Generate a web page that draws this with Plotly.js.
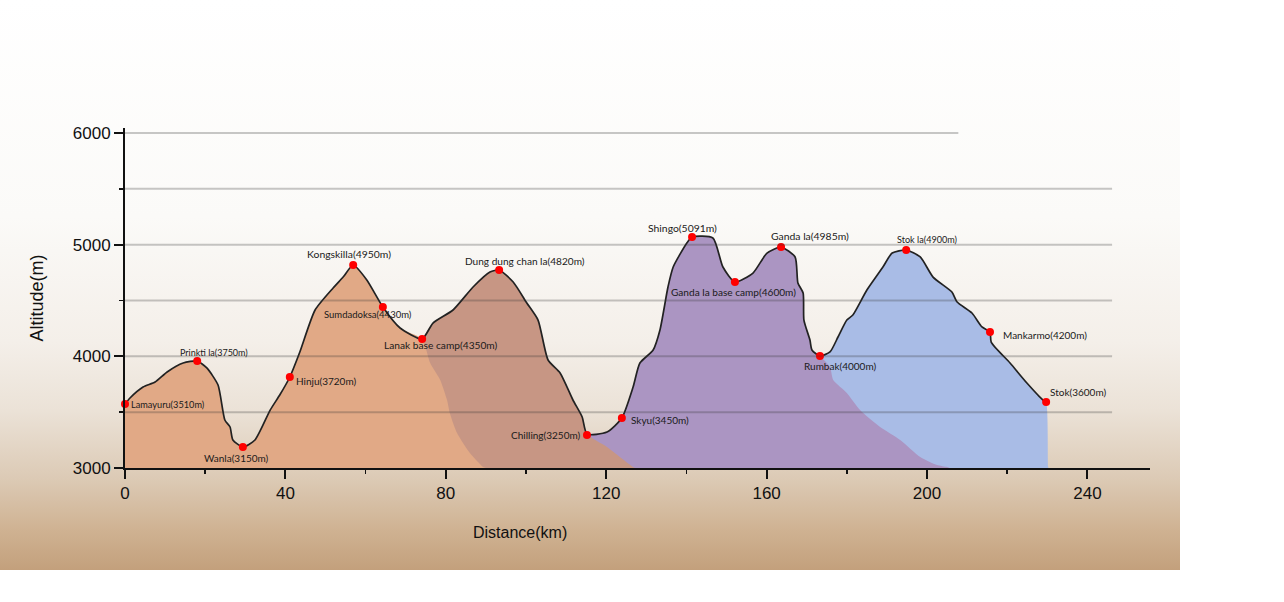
<!DOCTYPE html>
<html>
<head>
<meta charset="utf-8">
<script src="https://cdn.plot.ly/plotly-3.0.1.min.js"></script>
<style>
  html, body { margin: 0; padding: 0; background: #ffffff; }
  #wrap { position: relative; width: 1284px; height: 602px; overflow: hidden; }
  #bg { position: absolute; left: 0; top: 0; width: 1180px; height: 570px;
        background: linear-gradient(to bottom, #ffffff 0%, #fbfaf8 38%, #f4efe9 60%, #ebe2d7 72%, #dccab5 84%, #cfb292 93%, #c3a07c 100%); }
  #chart { position: absolute; left: 0; top: 0; width: 1284px; height: 602px; }
</style>
</head>
<body>
<div id="wrap"><div id="bg"></div><div id="chart"></div></div>
<script>
// ---------- DATA ----------
// full route profile (distance km, altitude m as drawn)
const profileKm  = [0, 1.25, 4.5, 7.5, 10.5, 14.5, 18.0, 20.4, 23.2, 24.9, 26.2, 26.9, 29.4, 32.4, 36.2, 38.7, 41.1, 43.6, 47.4, 51.9, 54.4, 56.9, 60.3, 64.3, 68.6, 74.1,
                    76.8, 81.8, 86.8, 91.0, 93.3, 96.8, 100.2, 103.0, 105.5, 108.5, 111.7, 114.0, 115.2,
                    120.2, 123.9, 126.7, 128.4, 131.7, 133.4, 135.4, 136.7, 140.1, 141.4, 146.6, 149.1, 152.1, 156.6, 160.1, 163.6, 167.1, 167.8, 169.1, 169.3, 170.8, 171.3, 173.3,
                    175.8, 177.8, 180.0, 181.5, 185.0, 189.0, 191.3, 194.8, 198.3, 201.5, 206.2, 207.5, 211.2, 213.7, 215.7, 216.0, 220.7, 224.9, 228.9, 229.7];
const profileAlt = [3573, 3627, 3725, 3770, 3860, 3940, 3958, 3896, 3743, 3430, 3367, 3251, 3188, 3251, 3519, 3660, 3815, 4039, 4415, 4612, 4710, 4818, 4684, 4442, 4254, 4155,
                    4298, 4415, 4621, 4755, 4773, 4666, 4478, 4325, 3967, 3851, 3609, 3457, 3304,
                    3322, 3448, 3725, 3940, 4057, 4236, 4621, 4800, 5015, 5069, 5060, 4800, 4666, 4746, 4925, 4979, 4890, 4657, 4567, 4325, 4146, 4057, 4003,
                    4039, 4173, 4325, 4370, 4594, 4800, 4925, 4952, 4890, 4710, 4576, 4487, 4388, 4263, 4218, 4128, 3940, 3761, 3609, 3591];

// stage boundaries along the profile (km)
const stageStartKm = [0, 74.1, 115.2, 173.3];
const stageEndKm   = [74.1, 115.2, 173.3, 229.7];

// hidden descending tails of each stage (behind the next stage)
const tailKm  = [[76.1, 78.6, 80.3, 81.0, 82.8, 86.0, 89.3, 90.0],
                 [120.2, 123.4, 126.7, 127.2],
                 [175.8, 176.6, 180.0, 183.3, 188.3, 193.3, 198.3, 202.5, 205.0, 205.6],
                 [230.2, 230.3]];
const tailAlt = [[3940, 3788, 3609, 3493, 3313, 3134, 3009, 3000],
                 [3188, 3099, 3009, 3000],
                 [3904, 3788, 3672, 3519, 3367, 3251, 3099, 3027, 3009, 3000],
                 [3009, 3000]];
const stageColors = ['#e1a986', '#c79684', '#ab95c2', '#a9bce6'];

// named stations
const stationNames = ['Lamayuru', 'Prinkti la', 'Wanla', 'Hinju', 'Kongskilla', 'Sumdadoksa', 'Lanak base camp', 'Dung dung chan la',
                      'Chilling', 'Skyu', 'Shingo', 'Ganda la base camp', 'Ganda la', 'Rumbak', 'Stok la', 'Mankarmo', 'Stok'];
const stationElev  = [3510, 3750, 3150, 3720, 4950, 4430, 4350, 4820, 3250, 3450, 5091, 4600, 4985, 4000, 4900, 4200, 3600];
const stationKm    = [0, 18.0, 29.4, 41.1, 56.9, 64.3, 74.1, 93.3, 115.2, 123.9, 141.4, 152.1, 163.6, 173.3, 194.8, 215.7, 229.7];
const stationAlt   = [3573, 3958, 3188, 3815, 4818, 4442, 4155, 4773, 3296, 3448, 5069, 4666, 4979, 4003, 4952, 4218, 3591];

const xTicks = [0, 40, 80, 120, 160, 200, 240];
const yTicks = [3000, 4000, 5000, 6000];
const gridVals = [3500, 4000, 4500, 5000, 5500, 6000];

// ---------- label placement (style only) ----------
const labelStyle = [
  {xa:'left',   dx: 4,  dy: 0,   fs: 9.2},
  {xa:'center', dx: 17, dy: 9,   fs: 9},
  {xa:'center', dx: -6, dy: -11, fs: 10},
  {xa:'left',   dx: 4,  dy: -4,  fs: 10},
  {xa:'center', dx: -4, dy: 11,  fs: 10.4},
  {xa:'center', dx: -15,dy: -8,  fs: 9.5},
  {xa:'center', dx: 19, dy: -6,  fs: 10.2},
  {xa:'center', dx: 26, dy: 9,   fs: 10.1},
  {xa:'right',  dx: -5, dy: 0,   fs: 10},
  {xa:'left',   dx: 7,  dy: -2,  fs: 10},
  {xa:'center', dx: -10,dy: 9,   fs: 10.4},
  {xa:'center', dx: -1, dy: -10, fs: 10.1},
  {xa:'center', dx: 29, dy: 11,  fs: 10.4},
  {xa:'center', dx: 20, dy: -10, fs: 10},
  {xa:'center', dx: 21, dy: 11,  fs: 9.1},
  {xa:'left',   dx: 11, dy: -3,  fs: 10},
  {xa:'left',   dx: 2,  dy: 10,  fs: 10}
];

// ---------- build traces ----------
const traces = [];
// draw order: last stage at the back, first stage in front
for (let s = stageStartKm.length - 1; s >= 0; s--) {
  const xs = [], ys = [];
  for (let i = 0; i < profileKm.length; i++) {
    if (profileKm[i] >= stageStartKm[s] - 1e-9 && profileKm[i] <= stageEndKm[s] + 1e-9) {
      xs.push(profileKm[i]); ys.push(profileAlt[i]);
    }
  }
  traces.push({
    type: 'scatter', mode: 'lines', x: xs.concat(tailKm[s]), y: ys.concat(tailAlt[s]),
    fill: 'tozeroy', fillcolor: stageColors[s], line: {width: 0, color: stageColors[s], shape: 'spline', smoothing: 0.6},
    hoverinfo: 'skip', showlegend: false
  });
}
traces.push({
  type: 'scatter', mode: 'lines', x: profileKm, y: profileAlt,
  line: {color: '#222222', width: 1.7, shape: 'spline', smoothing: 0.6}, hoverinfo: 'skip', showlegend: false
});
traces.push({
  type: 'scatter', mode: 'markers', x: stationKm, y: stationAlt,
  marker: {color: '#ff0000', size: 8}, text: stationNames, showlegend: false, cliponaxis: false
});

const annotations = stationNames.map((n, i) => ({
  x: stationKm[i], y: stationAlt[i], xref: 'x', yref: 'y',
  text: n + '(' + stationElev[i] + 'm)', showarrow: false,
  xanchor: labelStyle[i].xa, yanchor: 'middle',
  xshift: labelStyle[i].dx, yshift: labelStyle[i].dy,
  font: {family: 'Lato, "Open Sans", sans-serif', size: labelStyle[i].fs, color: '#1a1a1a'}
}));
annotations.push({
  xref: 'paper', yref: 'paper', x: 0.385, y: -0.191, xanchor: 'center', yanchor: 'middle',
  text: 'Distance(km)', showarrow: false,
  font: {family: '"Liberation Sans", Arial, sans-serif', size: 16, color: '#111'}
});

const shapes = gridVals.map(v => ({
  type: 'line', xref: 'paper', yref: 'y', x0: 0, x1: v === 6000 ? 0.813 : 0.963, y0: v, y1: v,
  line: {color: 'rgba(50,50,50,0.27)', width: 2}, layer: 'above'
}));

const axisFont = {family: '"Liberation Sans", Arial, sans-serif', size: 17, color: '#111'};

const layout = {
  width: 1284, height: 602,
  margin: {l: 125, r: 134, t: 128, b: 134},
  paper_bgcolor: 'rgba(0,0,0,0)', plot_bgcolor: 'rgba(0,0,0,0)',
  showlegend: false,
  xaxis: {
    range: [0, 255.6], tickvals: xTicks, ticktext: xTicks.map(String),
    showline: true, linecolor: '#111', linewidth: 2, mirror: false,
    ticks: 'outside', ticklen: 9, tickwidth: 2, tickcolor: '#111',
    minor: {tickvals: [20, 60, 100, 140, 180, 220], ticks: 'outside', ticklen: 4, tickwidth: 1.5, tickcolor: '#111', showgrid: false},
    showgrid: false, zeroline: false, tickfont: axisFont
  },
  yaxis: {
    range: [3000, 6045], tickvals: yTicks, ticktext: yTicks.map(String),
    showline: true, linecolor: '#111', linewidth: 2,
    ticks: 'outside', ticklen: 9, tickwidth: 2, tickcolor: '#111',
    minor: {tickvals: [3500, 4500, 5500], ticks: 'outside', ticklen: 4, tickwidth: 1.5, tickcolor: '#111', showgrid: false},
    showgrid: false, zeroline: false, tickfont: axisFont,
    title: {text: 'Altitude(m)', font: {family: '"Liberation Sans", Arial, sans-serif', size: 18, color: '#111'}, standoff: 24}
  },
  annotations: annotations,
  shapes: shapes
};

Plotly.newPlot('chart', traces, layout, {displayModeBar: false, staticPlot: true});
</script>
</body>
</html>
